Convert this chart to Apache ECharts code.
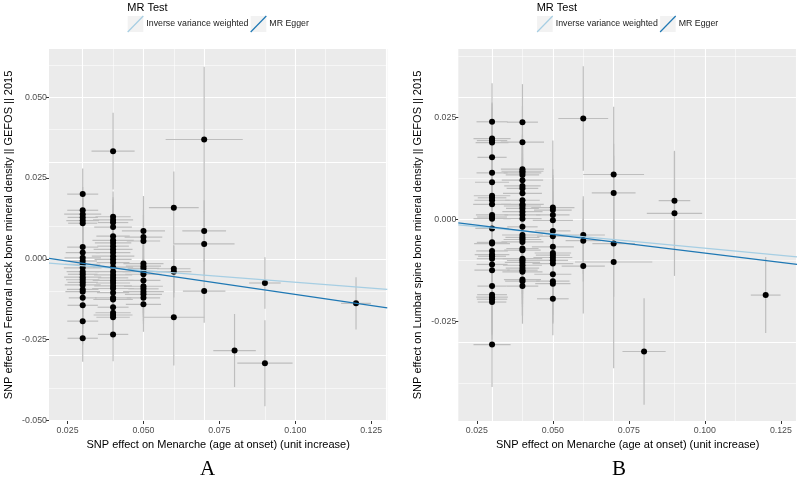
<!DOCTYPE html>
<html>
<head>
<meta charset="utf-8">
<script src="https://cdn.jsdelivr.net/npm/echarts@6/dist/echarts.min.js"></script>
<style>html,body{margin:0;padding:0;background:#fff;}#c{width:800px;height:480px;}</style>
</head>
<body>
<div id="c"></div>
<script>
// ---- data ----
const colX = [0.03, 0.04, 0.05, 0.06, 0.07, 0.08, 0.09, 0.12];

// Panel A: Femoral neck BMD
const A_by = [
  [0.0200,0.0150,0.0138,0.0128,0.0118,0.0110,0.0036,0.0019,0.0003,-0.0007,-0.0017,-0.0028,-0.0040,-0.0048,-0.0057,-0.0065,-0.0073,-0.0081,-0.0095,-0.0102,-0.0121,-0.0144,-0.0193,-0.0246],
  [0.0333,0.0130,0.0120,0.0112,0.0098,0.0070,0.0057,0.0049,0.0039,0.0029,0.0019,0.0008,-0.0002,-0.0012,-0.0026,-0.0040,-0.0050,-0.0059,-0.0067,-0.0075,-0.0084,-0.0092,-0.0105,-0.0121,-0.0126,-0.0150,-0.0167,-0.0174,-0.0181,-0.0234],
  [0.0086,0.0067,0.0055,-0.0015,-0.0023,-0.0030,-0.0040,-0.0048,-0.0067,-0.0085,-0.0093,-0.0102,-0.0110,-0.0121,-0.0141],
  [0.0158,-0.0031,-0.0040,-0.0181],
  [0.0369,0.0086,0.0046,-0.0100],
  [-0.0284],
  [-0.0075,-0.0323],
  [-0.0138]
];
const A_sx = [
  [0.0051,0.0051,0.0061,0.0050,0.0054,0.0048,0.0051,0.0056,0.0060,0.0047,0.0058,0.0062,0.0053,0.0049,0.0061,0.0055,0.0050,0.0059,0.0052,0.0057,0.0046,0.0050,0.0051,0.0050],
  [0.0071,0.0058,0.0066,0.0050,0.0062,0.0055,0.0068,0.0060,0.0052,0.0064,0.0057,0.0070,0.0061,0.0054,0.0066,0.0059,0.0063,0.0050,0.0067,0.0056,0.0062,0.0069,0.0053,0.0060,0.0065,0.0051,0.0058,0.0064,0.0055,0.0050],
  [0.0071,0.0062,0.0055,0.0066,0.0058,0.0052,0.0069,0.0060,0.0056,0.0064,0.0050,0.0067,0.0061,0.0055,0.0058],
  [0.0082,0.0055,0.0058,0.0101],
  [0.0127,0.0072,0.0100,0.0070],
  [0.0070],
  [0.0052,0.0091],
  [0.0049]
];
const A_sy = [
  [0.0079,0.0072,0.0068,0.0070,0.0066,0.0071,0.0069,0.0074,0.0067,0.0070,0.0068,0.0072,0.0069,0.0071,0.0067,0.0070,0.0073,0.0068,0.0071,0.0069,0.0072,0.0070,0.0072,0.0073],
  [0.0119,0.0078,0.0070,0.0072,0.0068,0.0071,0.0069,0.0073,0.0067,0.0070,0.0072,0.0068,0.0071,0.0069,0.0074,0.0067,0.0070,0.0072,0.0068,0.0071,0.0069,0.0073,0.0070,0.0068,0.0072,0.0071,0.0069,0.0073,0.0070,0.0083],
  [0.0108,0.0085,0.0080,0.0078,0.0082,0.0079,0.0084,0.0081,0.0077,0.0083,0.0080,0.0078,0.0082,0.0080,0.0085],
  [0.0112,0.0075,0.0080,0.0149],
  [0.0225,0.0095,0.0100,0.0098],
  [0.0113],
  [0.0080,0.0133],
  [0.0081]
];

// Panel B: Lumbar spine BMD
const B_by = [
  [0.0239,0.0198,0.0193,0.0188,0.0152,0.0114,0.0091,0.0058,0.0053,0.0047,0.0037,0.0011,0.0006,0.0002,-0.0022,-0.0056,-0.0059,-0.0077,-0.0086,-0.0090,-0.0096,-0.0110,-0.0124,-0.0163,-0.0184,-0.0190,-0.0195,-0.0202,-0.0306],
  [0.0238,0.0189,0.0123,0.0118,0.0114,0.0109,0.0096,0.0082,0.0076,0.0064,0.0047,0.0037,0.0033,0.0027,0.0019,0.0011,0.0002,-0.0018,-0.0038,-0.0044,-0.0049,-0.0055,-0.0071,-0.0075,-0.0096,-0.0100,-0.0105,-0.0112,-0.0119,-0.0124,-0.0128,-0.0147,-0.0151,-0.0163],
  [0.0029,0.0023,0.0011,-0.0002,-0.0028,-0.0041,-0.0067,-0.0082,-0.0087,-0.0093,-0.0100,-0.0108,-0.0134,-0.0151,-0.0157,-0.0194],
  [0.0247,-0.0038,-0.0052,-0.0114],
  [0.0110,0.0065,-0.0059,-0.0104],
  [-0.0323],
  [0.0046,0.0015],
  [-0.0185]
];
const B_sx = [
  [0.0051,0.0061,0.0050,0.0054,0.0048,0.0051,0.0056,0.0060,0.0047,0.0058,0.0062,0.0053,0.0049,0.0061,0.0055,0.0050,0.0059,0.0052,0.0057,0.0046,0.0050,0.0051,0.0058,0.0048,0.0049,0.0052,0.0050,0.0047,0.0061],
  [0.0051,0.0071,0.0071,0.0069,0.0062,0.0055,0.0068,0.0060,0.0052,0.0064,0.0057,0.0070,0.0061,0.0054,0.0066,0.0059,0.0063,0.0050,0.0067,0.0056,0.0062,0.0069,0.0053,0.0060,0.0065,0.0051,0.0058,0.0064,0.0055,0.0050,0.0066,0.0061,0.0057,0.0052],
  [0.0071,0.0062,0.0055,0.0066,0.0058,0.0052,0.0069,0.0060,0.0056,0.0064,0.0050,0.0067,0.0061,0.0055,0.0058,0.0052],
  [0.0082,0.0071,0.0058,0.0071],
  [0.0100,0.0072,0.0070,0.0127],
  [0.0071],
  [0.0052,0.0091],
  [0.0049]
];
const B_sy = [
  [0.0094,0.0088,0.0090,0.0086,0.0092,0.0089,0.0091,0.0087,0.0090,0.0088,0.0093,0.0089,0.0091,0.0087,0.0090,0.0092,0.0088,0.0091,0.0089,0.0093,0.0090,0.0088,0.0092,0.0089,0.0091,0.0090,0.0088,0.0092,0.0104],
  [0.0093,0.0088,0.0085,0.0087,0.0084,0.0086,0.0083,0.0088,0.0085,0.0087,0.0084,0.0086,0.0089,0.0083,0.0085,0.0087,0.0084,0.0088,0.0086,0.0083,0.0087,0.0085,0.0084,0.0088,0.0086,0.0083,0.0087,0.0085,0.0088,0.0084,0.0086,0.0087,0.0085,0.0092],
  [0.0164,0.0100,0.0098,0.0102,0.0097,0.0101,0.0099,0.0096,0.0100,0.0098,0.0102,0.0097,0.0099,0.0101,0.0098,0.0089],
  [0.0128,0.0095,0.0100,0.0116],
  [0.0166,0.0120,0.0130,0.0260],
  [0.0130],
  [0.0120,0.0153],
  [0.0093]
];

// MR fitted lines (values at the panel's x extent)
const A_ivw   = [[0.0189, -0.00138], [0.1303, -0.0095]];
const A_egger = [[0.0189,  0.0001 ], [0.1303, -0.0152]];
const B_ivw   = [[0.0189, -0.00132], [0.1303, -0.00917]];
const B_egger = [[0.0189, -0.00083], [0.1303, -0.0110]];

// axes
const xRange = [0.0189, 0.1303];
const yRangeA = [-0.0502, 0.0649];
const yRangeB = [-0.0493, 0.0417];
const xTicks = [0.025, 0.05, 0.075, 0.1, 0.125];
const xMinor = [0.0375, 0.0625, 0.0875, 0.1125];
const yTicksA = [-0.05, -0.025, 0, 0.025, 0.05];
const yMinorA = [-0.0375, -0.0125, 0.0125, 0.0375, 0.0625];
const yTicksB = [-0.025, 0, 0.025];
const yMinorB = [-0.0375, -0.0125, 0.0125, 0.0375];

const xTitle = 'SNP effect on Menarche (age at onset) (unit increase)';
const yTitleA = 'SNP effect on Femoral neck bone mineral density || GEFOS || 2015';
const yTitleB = 'SNP effect on Lumbar spine bone mineral density || GEFOS || 2015';
const legendTitle = 'MR Test';
const methods = ['Inverse variance weighted', 'MR Egger'];
const methodColors = ['#A6CEE3', '#1F78B4'];
const panelLabels = ['A', 'B'];

// ---- build ----
const FONT = '"Liberation Sans", Arial, Helvetica, sans-serif';
function rows(by, sx, sy) {
  const out = [];
  colX.forEach((x, c) => by[c].forEach((y, i) => out.push([x, y, sx[c][i] ?? 0.006, sy[c][i] ?? 0.008])));
  return out;
}
const rowsA = rows(A_by, A_sx, A_sy);
const rowsB = rows(B_by, B_sx, B_sy);

function xAxisDef(idx) {
  return {
    gridIndex: idx, type: 'value', min: xRange[0], max: xRange[1],
    splitLine: {show: false}, axisLine: {show: false, onZero: false},
    axisTick: {show: true, length: 3, customValues: xTicks, lineStyle: {color: '#333333', width: 1}},
    axisLabel: {customValues: xTicks, formatter: v => v.toFixed(3), color: '#4D4D4D', fontSize: 8.8, margin: 5, fontFamily: FONT},
    name: xTitle, nameLocation: 'middle', nameGap: 17,
    nameTextStyle: {color: '#000', fontSize: 11, fontFamily: FONT}
  };
}
function yAxisDef(idx, range, ticks, title) {
  return {
    gridIndex: idx, type: 'value', min: range[0], max: range[1],
    splitLine: {show: false}, axisLine: {show: false, onZero: false},
    axisTick: {show: true, length: 3, customValues: ticks, lineStyle: {color: '#333333', width: 1}},
    axisLabel: {customValues: ticks, formatter: v => v.toFixed(3), color: '#4D4D4D', fontSize: 8.8, margin: 2, fontFamily: FONT},
    name: title, nameLocation: 'middle', nameGap: 35,
    nameTextStyle: {color: '#000', fontSize: 11, fontFamily: FONT}
  };
}
function gridLines(idx, yMajor, yMinor) {
  const data = [];
  xMinor.forEach(v => data.push({xAxis: v, lineStyle: {color: '#FFFFFF', width: 0.55}}));
  yMinor.forEach(v => data.push({yAxis: v, lineStyle: {color: '#FFFFFF', width: 0.55}}));
  xTicks.forEach(v => data.push({xAxis: v, lineStyle: {color: '#FFFFFF', width: 1.1}}));
  yMajor.forEach(v => data.push({yAxis: v, lineStyle: {color: '#FFFFFF', width: 1.1}}));
  return {
    type: 'scatter', xAxisIndex: idx, yAxisIndex: idx, data: [], z: 1, silent: true,
    markLine: {z: 1, silent: true, symbol: ['none', 'none'], label: {show: false}, animation: false,
      lineStyle: {type: 'solid'}, emphasis: {disabled: true}, data: data}
  };
}
function errSeries(idx, rs) {
  return {
    type: 'custom', xAxisIndex: idx, yAxisIndex: idx, z: 3, clip: true, silent: true,
    data: rs, encode: {x: 0, y: 1},
    renderItem: (params, api) => {
      const x = api.value(0), y = api.value(1), ex = api.value(2), ey = api.value(3);
      const v0 = api.coord([x, y - ey]), v1 = api.coord([x, y + ey]);
      const h0 = api.coord([x - ex, y]), h1 = api.coord([x + ex, y]);
      const st = {stroke: '#BEBEBE', lineWidth: 1.2};
      return {type: 'group', children: [
        {type: 'line', shape: {x1: v0[0], y1: v0[1], x2: v1[0], y2: v1[1]}, style: st},
        {type: 'line', shape: {x1: h0[0], y1: h0[1], x2: h1[0], y2: h1[1]}, style: st}
      ]};
    }
  };
}
function pointSeries(idx, rs) {
  return {type: 'scatter', xAxisIndex: idx, yAxisIndex: idx, z: 10, silent: true,
    data: rs.map(r => [r[0], r[1]]), symbol: 'circle', symbolSize: 6,
    itemStyle: {color: '#000000', opacity: 1, borderWidth: 0}};
}
function lineSeries(idx, name, data, color, z) {
  return {type: 'line', name: name, xAxisIndex: idx, yAxisIndex: idx, z: z, silent: true,
    data: data, symbol: 'none', lineStyle: {color: color, width: 1.2}, clip: true};
}
function legendGraphic(x0) {
  const els = [];
  els.push({type: 'text', left: x0, top: 2, style: {text: legendTitle, fill: '#000', font: '11px ' + FONT}});
  const keyX = [x0 + 0.4, x0 + 123.4];
  methods.forEach((m, k) => {
    els.push({type: 'rect', shape: {x: keyX[k], y: 16, width: 15.6, height: 16}, style: {fill: '#F2F2F2'}});
    els.push({type: 'line', shape: {x1: keyX[k], y1: 32, x2: keyX[k] + 15.6, y2: 16}, style: {stroke: methodColors[k], lineWidth: 1.2}});
    els.push({type: 'text', x: keyX[k] + 18.6, y: 24, style: {text: m, fill: '#1A1A1A', font: '8.8px ' + FONT, textVerticalAlign: 'middle'}});
  });
  return els;
}

const option = {
  animation: false,
  backgroundColor: '#FFFFFF',
  grid: [
    {left: 49, top: 49, width: 338.3, height: 372, show: true, backgroundColor: '#EBEBEB', borderWidth: 0},
    {left: 458.3, top: 49, width: 338.7, height: 372, show: true, backgroundColor: '#EBEBEB', borderWidth: 0}
  ],
  xAxis: [xAxisDef(0), xAxisDef(1)],
  yAxis: [yAxisDef(0, yRangeA, yTicksA, yTitleA), yAxisDef(1, yRangeB, yTicksB, yTitleB)],
  series: [
    gridLines(0, yTicksA, yMinorA),
    gridLines(1, yTicksB, yMinorB),
    errSeries(0, rowsA), errSeries(1, rowsB),
    pointSeries(0, rowsA), pointSeries(1, rowsB),
    lineSeries(0, methods[0], A_ivw, methodColors[0], 11),
    lineSeries(0, methods[1], A_egger, methodColors[1], 12),
    lineSeries(1, methods[0], B_ivw, methodColors[0], 11),
    lineSeries(1, methods[1], B_egger, methodColors[1], 12)
  ],
  graphic: [
    ...legendGraphic(127.3),
    ...legendGraphic(536.7),
    {type: 'text', x: 207.5, y: 469.5, style: {text: panelLabels[0], fill: '#000', font: '21px "Liberation Serif", "Times New Roman", serif', textAlign: 'center', textVerticalAlign: 'middle'}},
    {type: 'text', x: 619, y: 469.5, style: {text: panelLabels[1], fill: '#000', font: '21px "Liberation Serif", "Times New Roman", serif', textAlign: 'center', textVerticalAlign: 'middle'}}
  ]
};
const chart = echarts.init(document.getElementById('c'), null, {renderer: 'canvas'});
chart.setOption(option);
</script>
</body>
</html>
